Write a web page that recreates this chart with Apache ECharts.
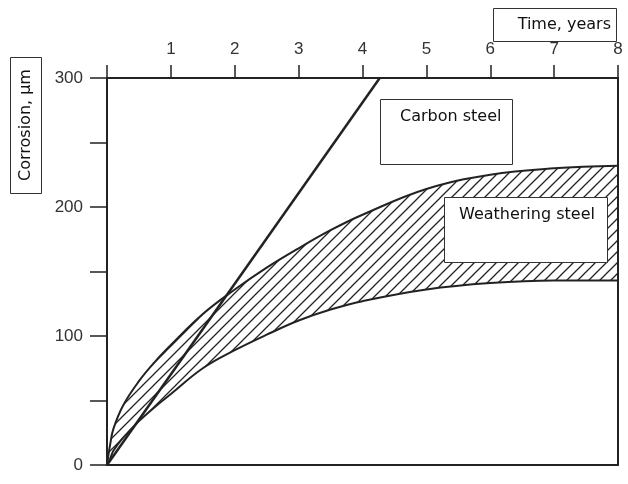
<!DOCTYPE html>
<html>
<head>
<meta charset="utf-8">
<script src="https://cdn.jsdelivr.net/npm/echarts@6/dist/echarts.min.js"></script>
<style>html,body{margin:0;padding:0;background:#fff}#c{width:628px;height:484px}</style>
</head>
<body>
<div id="c"></div>
<script>
// ---- data ----
var years      = [0, 0.05, 0.1, 0.25, 0.5, 0.75, 1, 1.5, 2, 2.5, 3, 3.5, 4, 5, 6, 7, 8];
var upperWS    = [0, 16, 28, 46, 65, 80, 93, 117, 136, 153, 168, 182, 194, 214, 225, 230, 232];
var lowerWS    = [0, 5, 11, 21, 34, 45, 55, 75, 89, 101, 112, 120.5, 127, 136, 141, 143, 143];
var carbonX    = [0, 4.27];
var carbonY    = [0, 300];
var xTicks     = [1, 2, 3, 4, 5, 6, 7, 8];
var yTicks     = [0, 100, 200, 300];

// hatch pattern
function makeHatch() {
  var s = 11;
  var c = document.createElement('canvas');
  c.width = s; c.height = s;
  var g = c.getContext('2d');
  g.strokeStyle = '#222';
  g.lineWidth = 1.3;
  g.beginPath();
  g.moveTo(-2, s + 2); g.lineTo(s + 2, -2);
  g.moveTo(-2, 2); g.lineTo(2, -2);
  g.moveTo(s - 2, s + 2); g.lineTo(s + 2, s - 2);
  g.stroke();
  return c;
}

var upperData = years.map(function (x, i) { return [x, upperWS[i]]; });
var lowerData = years.map(function (x, i) { return [x, lowerWS[i]]; });
var carbonData = carbonX.map(function (x, i) { return [x, carbonY[i]]; });

var labelFont = { fontFamily: 'Liberation Sans', fontSize: 17, color: '#333' };
var boxFont = '16px "DejaVu Sans"';
var axLine = { show: true, onZero: false, lineStyle: { color: '#222', width: 2 } };

var chart = echarts.init(document.getElementById('c'));
chart.setOption({
  animation: false,
  grid: { left: 107, right: 10, top: 78, bottom: 19 },
  xAxis: [{
    type: 'value', position: 'top', min: 0, max: 8, interval: 1, z: 10,
    axisLine: axLine,
    axisTick: { show: true, length: 13, lineStyle: { color: '#222', width: 1.5 } },
    axisLabel: Object.assign({ margin: 20, formatter: function (v) { return xTicks.indexOf(v) >= 0 ? String(v) : ''; } }, labelFont),
    splitLine: { show: false }
  }, {
    type: 'value', position: 'bottom', min: 0, max: 8, z: 10,
    axisLine: axLine,
    axisTick: { show: false }, axisLabel: { show: false }, splitLine: { show: false }
  }],
  yAxis: [{
    type: 'value', position: 'left', min: 0, max: 300, interval: 50, z: 10,
    axisLine: axLine,
    axisTick: { show: true, length: 17, lineStyle: { color: '#222', width: 1.5 } },
    axisLabel: Object.assign({ margin: 24, formatter: function (v) { return yTicks.indexOf(v) >= 0 ? String(v) : ''; } }, labelFont),
    splitLine: { show: false }
  }, {
    type: 'value', position: 'right', min: 0, max: 300, z: 10,
    axisLine: axLine,
    axisTick: { show: false }, axisLabel: { show: false }, splitLine: { show: false }
  }],
  series: [{
    name: 'Weathering steel (upper)', type: 'line', smooth: 0.4, z: 2,
    data: upperData, showSymbol: false, symbol: 'none',
    lineStyle: { color: '#222', width: 2 },
    areaStyle: { color: { image: makeHatch(), repeat: 'repeat' }, opacity: 1 }
  }, {
    name: 'Weathering steel (lower)', type: 'line', smooth: 0.4, z: 3,
    data: lowerData, showSymbol: false, symbol: 'none',
    lineStyle: { color: '#222', width: 2 },
    areaStyle: { color: '#fff', opacity: 1 }
  }, {
    name: 'Carbon steel', type: 'line', z: 4,
    data: carbonData, showSymbol: false, symbol: 'none',
    lineStyle: { color: '#222', width: 2.5 }
  }],
  graphic: [
    { type: 'rect', z: 100, shape: { x: 493.5, y: 8.5, width: 123, height: 33 }, style: { fill: '#fff', stroke: '#333', lineWidth: 1 } },
    { type: 'text', z: 101, x: 611, y: 25, style: { text: 'Time, years', font: boxFont, fill: '#111', align: 'right', verticalAlign: 'middle' } },
    { type: 'rect', z: 100, shape: { x: 10.5, y: 57.5, width: 31, height: 136 }, style: { fill: '#fff', stroke: '#333', lineWidth: 1 } },
    { type: 'text', z: 101, x: 26, y: 125, rotation: Math.PI / 2, style: { text: 'Corrosion, µm', font: boxFont, fill: '#111', align: 'center', verticalAlign: 'middle' } },
    { type: 'rect', z: 100, shape: { x: 380.5, y: 99.5, width: 132, height: 65 }, style: { fill: '#fff', stroke: '#333', lineWidth: 1 } },
    { type: 'text', z: 101, x: 400, y: 117, style: { text: 'Carbon steel', font: boxFont, fill: '#111', align: 'left', verticalAlign: 'middle' } },
    { type: 'rect', z: 100, shape: { x: 444.5, y: 197.5, width: 163, height: 65 }, style: { fill: '#fff', stroke: '#333', lineWidth: 1 } },
    { type: 'text', z: 101, x: 459, y: 215, style: { text: 'Weathering steel', font: boxFont, fill: '#111', align: 'left', verticalAlign: 'middle' } }
  ]
});
</script>
</body>
</html>
